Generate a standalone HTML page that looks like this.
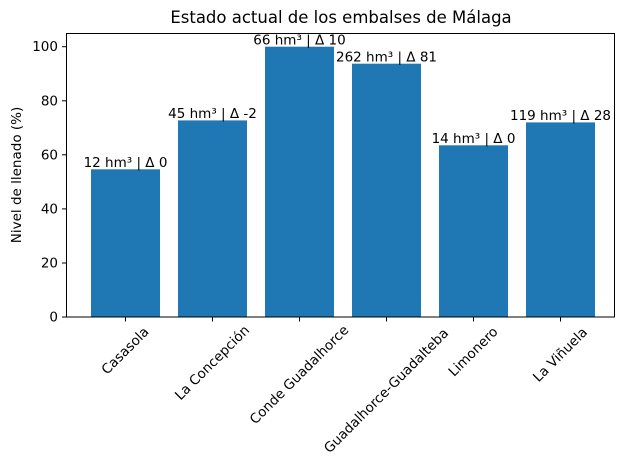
<!DOCTYPE html>
<html><head><style>body{margin:0;background:#fff}svg{display:block}text{font-family:"DejaVu Sans","Liberation Sans",sans-serif;fill:#000}</style></head>
<body>
<svg width="630" height="470" viewBox="0 0 630 470">
<text x="341" y="23" font-size="16.5" text-anchor="middle">Estado actual de los embalses de Málaga</text>
<g fill="#1f77b4">
<rect x="91" y="169.3" width="69" height="147.7"/>
<rect x="178" y="120.4" width="69" height="196.6"/>
<rect x="265" y="46.7" width="69" height="270.3"/>
<rect x="352" y="63.7" width="69" height="253.3"/>
<rect x="439" y="145.3" width="69" height="171.7"/>
<rect x="526" y="122.4" width="69" height="194.6"/>
</g>
<g font-size="13.5" text-anchor="middle">
<text x="125.5" y="167">12 hm³ | Δ 0</text>
<text x="212.5" y="118">45 hm³ | Δ -2</text>
<text x="299.5" y="44.5">66 hm³ | Δ 10</text>
<text x="386.5" y="61.5">262 hm³ | Δ 81</text>
<text x="473.5" y="143">14 hm³ | Δ 0</text>
<text x="560.5" y="120">119 hm³ | Δ 28</text>
</g>
<rect x="66.5" y="33.5" width="548" height="283.5" fill="none" stroke="#000" stroke-width="1"/>
<g stroke="#000" stroke-width="1">
<line x1="62" y1="317" x2="66.5" y2="317"/><line x1="62" y1="263" x2="66.5" y2="263"/><line x1="62" y1="208.9" x2="66.5" y2="208.9"/><line x1="62" y1="154.8" x2="66.5" y2="154.8"/><line x1="62" y1="100.8" x2="66.5" y2="100.8"/><line x1="62" y1="46.7" x2="66.5" y2="46.7"/>
<line x1="125.5" y1="317" x2="125.5" y2="321.5"/><line x1="212.5" y1="317" x2="212.5" y2="321.5"/><line x1="299.5" y1="317" x2="299.5" y2="321.5"/><line x1="386.5" y1="317" x2="386.5" y2="321.5"/><line x1="473.5" y1="317" x2="473.5" y2="321.5"/><line x1="560.5" y1="317" x2="560.5" y2="321.5"/>
</g>
<g font-size="13.5" text-anchor="end">
<text x="58" y="321.5">0</text><text x="58" y="267.5">20</text><text x="58" y="213.4">40</text><text x="58" y="159.3">60</text><text x="58" y="105.3">80</text><text x="58" y="51.2">100</text>
</g>
<g font-size="13.5" text-anchor="middle" dominant-baseline="central">
<text transform="translate(125.5,351) rotate(-45)">Casasola</text>
<text transform="translate(212.5,363) rotate(-45)">La Concepción</text>
<text transform="translate(299.5,375) rotate(-45)">Conde Guadalhorce</text>
<text transform="translate(386.5,391) rotate(-45)">Guadalhorce-Guadalteba</text>
<text transform="translate(473.5,352) rotate(-45)">Limonero</text>
<text transform="translate(560.5,355) rotate(-45)">La Viñuela</text>
</g>
<text transform="translate(21,175) rotate(-90)" font-size="13.5" text-anchor="middle">Nivel de llenado (%)</text>
</svg>
</body></html>
